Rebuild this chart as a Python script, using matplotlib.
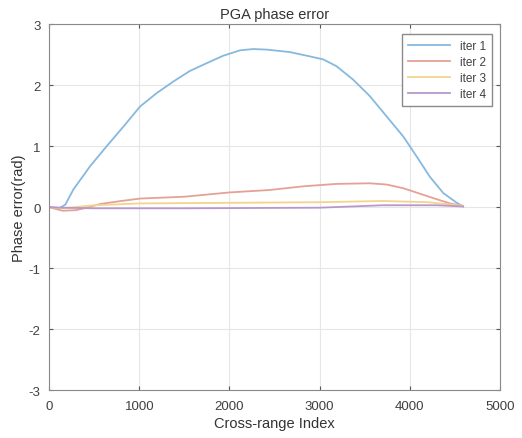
import matplotlib.pyplot as plt

plt.rcParams['font.family'] = ['Liberation Sans', 'DejaVu Sans']
plt.rcParams['axes.unicode_minus'] = False

# iter 1
x1 = [0, 100, 180, 270, 455, 640, 825, 1010, 1195, 1380, 1560, 1750, 1930, 2120, 2265,
      2420, 2670, 2890, 3040, 3185, 3370, 3555, 3740, 3925, 4075, 4220, 4370, 4520, 4590]
y1 = [0, -0.03, 0.04, 0.29, 0.67, 1.0, 1.32, 1.65, 1.87, 2.06, 2.23, 2.36, 2.48, 2.57, 2.59,
      2.58, 2.54, 2.47, 2.42, 2.31, 2.09, 1.82, 1.49, 1.16, 0.83, 0.50, 0.23, 0.07, 0.01]

# iter 2
x2 = [0, 150, 300, 420, 565, 800, 1010, 1500, 2000, 2445, 2815, 3185, 3555, 3740, 3925,
      4110, 4295, 4445, 4590]
y2 = [0, -0.06, -0.05, -0.01, 0.05, 0.10, 0.14, 0.17, 0.24, 0.28, 0.34, 0.38, 0.39, 0.37, 0.31,
      0.22, 0.13, 0.06, 0.02]

# iter 3
x3 = [0, 150, 500, 1000, 2000, 3000, 3700, 4200, 4590]
y3 = [0, -0.02, 0.03, 0.06, 0.07, 0.08, 0.10, 0.08, 0.02]

# iter 4
x4 = [0, 150, 500, 1500, 3000, 3700, 4300, 4590]
y4 = [0, -0.01, -0.02, -0.02, -0.01, 0.03, 0.03, 0.01]

series = [(x1, y1, 'iter 1', '#86b9de'),
          (x2, y2, 'iter 2', '#e6a196'),
          (x3, y3, 'iter 3', '#f3d48c'),
          (x4, y4, 'iter 4', '#b997cc')]

fig = plt.figure(figsize=(5.22, 4.39), dpi=100)
ax = fig.add_axes([0.094, 0.109, 0.864, 0.834])

for xs, ys, lab, c in series:
    ax.plot(xs, ys, color=c, lw=1.3, label=lab)

ax.set_xlim(0, 5000)
ax.set_ylim(-3, 3)
ax.set_xticks(range(0, 5001, 1000))
ax.set_yticks(range(-3, 4))
ax.grid(True, color='#e6e6e6', lw=0.8)
ax.set_axisbelow(True)
ax.tick_params(direction='in', length=3, colors='#555555', labelsize=9.5,
               top=True, right=True, labelcolor='#404040')
ax.tick_params(axis='x', pad=7)
ax.tick_params(axis='y', pad=6)
for sp in ax.spines.values():
    sp.set_color('#8a8a8a')

ax.set_title('PGA phase error', fontsize=10.5, color='#333333', pad=4)
ax.set_xlabel('Cross-range Index', fontsize=10.5, color='#333333', labelpad=3)
ax.set_ylabel('Phase error(rad)', fontsize=10.5, color='#333333', labelpad=2)

leg = ax.legend(loc='upper right', bbox_to_anchor=(0.982, 0.973), borderaxespad=0,
                fontsize=8.5, fancybox=False, framealpha=1, edgecolor='#8a8a8a',
                handlelength=3.6, borderpad=0.5, labelspacing=0.35)
for t in leg.get_texts():
    t.set_color('#404040')

fig.savefig('out.png', dpi=100)
